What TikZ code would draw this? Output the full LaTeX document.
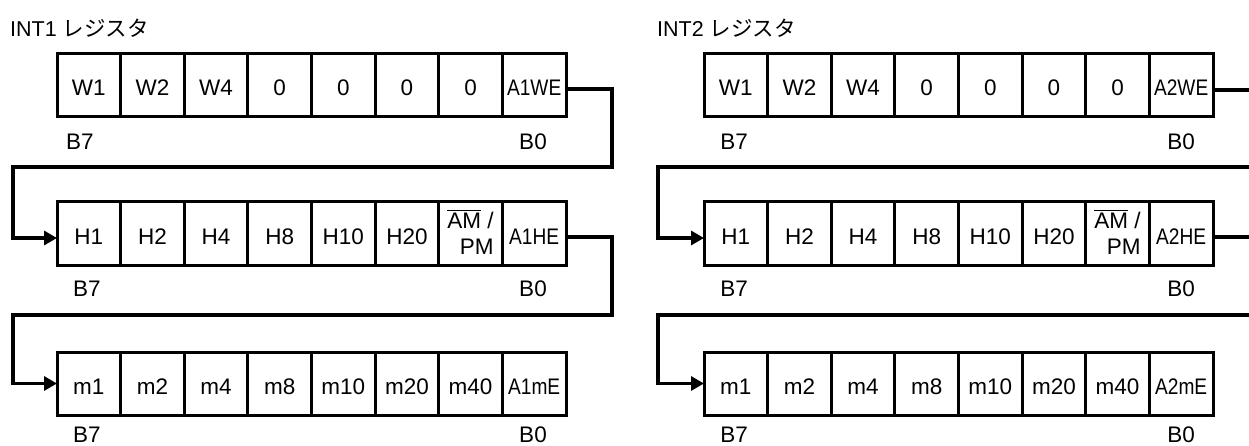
\documentclass[tikz,border=0pt]{standalone}
\usepackage{fontspec}
\usepackage{graphicx}
\setmainfont{Liberation Sans}
\newfontfamily\jpfont{Noto Sans CJK JP}
\usetikzlibrary{arrows.meta}
\newsavebox\amsavebox
\newcommand\myovl[1]{\sbox\amsavebox{#1}\rlap{\rule[0.74em]{\wd\amsavebox}{1.6pt}}\usebox\amsavebox}
\newcommand\cond[1]{\scalebox{0.85}[1]{#1}}
\newcommand\ampmlabel{\raisebox{16pt}{\begin{tabular}[t]{@{}r@{}}\myovl{AM} /\\PM\end{tabular}}}
\newcommand\regrow[4]{%
  \foreach \lab [count=\i from 0] in {#4} {%
    \node[cell] (#1c\i) at ({#2+57+63.625*(\i+0.5)},{#3+31.5}) {};
    \node[bit] (#1t\i) at ({#2+57+63.625*(\i+0.5)},{#3+42}) {\lab};
  }}
\begin{document}
\begin{tikzpicture}[x=1pt,y=-1pt,
  cell/.style={draw, line width=3pt, minimum width=63.625pt, minimum height=63pt, inner sep=0pt, outer sep=0pt},
  bit/.style={anchor=base, inner sep=0pt, font=\fontsize{22.5}{26}\selectfont},
  title/.style={anchor=base west, inner sep=0pt, font=\fontsize{21.5}{26}\selectfont},
  conn/.style={line width=3.2pt, -{Triangle[length=13pt,width=14pt]}},
  wire/.style={line width=3.2pt}]
\useasboundingbox (0,0) rectangle (1249,446);
\begin{scope}
\clip (0,0) rectangle (1249,446);
% ---------- INT1 ----------
\node[title] (T1) at (10,37) {INT1 {\jpfont レジスタ}};
\regrow{La}{0}{54}{W1,W2,W4,0,0,0,0,{\cond{A1WE}}}
\regrow{Lb}{0}{202}{H1,H2,H4,H8,H10,H20,{\ampmlabel},{\cond{A1HE}}}
\regrow{Lc}{0}{352}{m1,m2,m4,m8,m10,m20,m40,{\cond{A1mE}}}
\node[bit] (LaB7) at (80,150) {B7};
\node[bit] (LaB0) at (533,150) {B0};
\node[bit] (LbB7) at (87,296) {B7};
\node[bit] (LbB0) at (533,296) {B0};
\node[bit] (LcB7) at (87,442) {B7};
\node[bit] (LcB0) at (533,442) {B0};
\coordinate (L1r) at (612,167);
\coordinate (L1l) at (13,167);
\coordinate (L2r) at (612,315);
\coordinate (L2l) at (13,315);
\draw[conn] ([yshift=-3.5pt]Lac7.east) -| (L1r) -- (L1l) |- ([yshift=-4.5pt]Lbc0.west);
\draw[conn] ([yshift=-3.5pt]Lbc7.east) -| (L2r) -- (L2l) |- (Lcc0.west);
% ---------- INT2 ----------
\node[title] (T2) at (657,37) {INT2 {\jpfont レジスタ}};
\regrow{Ra}{647}{54}{W1,W2,W4,0,0,0,0,{\cond{A2WE}}}
\regrow{Rb}{647}{202}{H1,H2,H4,H8,H10,H20,{\ampmlabel},{\cond{A2HE}}}
\regrow{Rc}{647}{352}{m1,m2,m4,m8,m10,m20,m40,{\cond{A2mE}}}
\node[bit] (RaB7) at (734,150) {B7};
\node[bit] (RaB0) at (1181,150) {B0};
\node[bit] (RbB7) at (734,296) {B7};
\node[bit] (RbB0) at (1181,296) {B0};
\node[bit] (RcB7) at (734,442) {B7};
\node[bit] (RcB0) at (1181,442) {B0};
\coordinate (R1r) at (1259,167);
\coordinate (R1l) at (658,167);
\coordinate (R2r) at (1259,315);
\coordinate (R2l) at (658,315);
\draw[conn] ([yshift=-4.5pt]Rac7.east) -| (R1r) -- (R1l) |- ([yshift=-4.5pt]Rbc0.west);
\draw[conn] ([yshift=-3.5pt]Rbc7.east) -| (R2r) -- (R2l) |- (Rcc0.west);
\end{scope}
\end{tikzpicture}
\end{document}
